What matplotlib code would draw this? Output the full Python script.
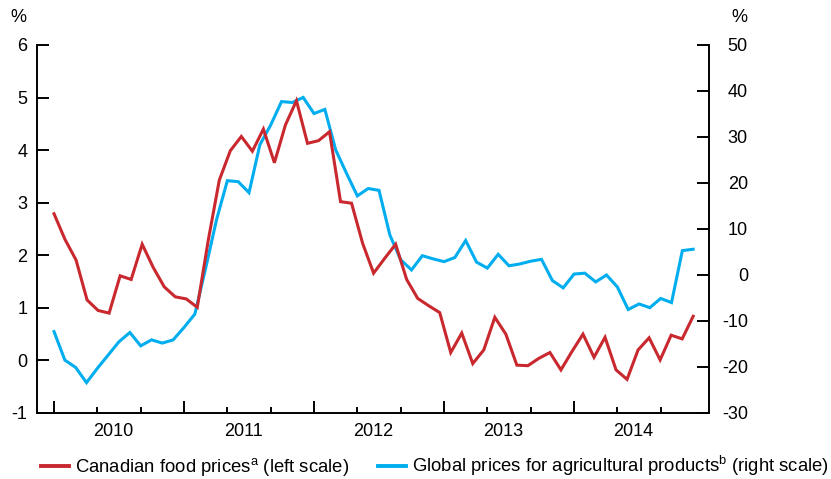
import matplotlib
matplotlib.use("Agg")
import matplotlib.pyplot as plt
import numpy as np

plt.rcParams['font.family'] = ['Liberation Sans', 'DejaVu Sans']
plt.rcParams['mathtext.fontset'] = 'custom'
plt.rcParams['mathtext.rm'] = 'Liberation Sans'
plt.rcParams['axes.unicode_minus'] = False

# Canadian food prices, y/y % (left scale)
food = [2.79, 2.30, 1.91, 1.15, 0.95, 0.90, 1.61, 1.54, 2.21, 1.77,
        1.40, 1.21, 1.17, 1.01, 2.29, 3.43, 3.99, 4.26, 3.98, 4.40,
        3.76, 4.48, 4.94, 4.13, 4.18, 4.35, 3.02, 2.99, 2.23, 1.66,
        1.94, 2.21, 1.54, 1.18, 1.04, 0.91, 0.15, 0.52, -0.06, 0.20,
        0.82, 0.50, -0.09, -0.10, 0.04, 0.15, -0.18, 0.17, 0.50, 0.06,
        0.44, -0.18, -0.36, 0.20, 0.43, 0.01, 0.48, 0.41, 0.84]

# Global prices for agricultural products, y/y % (right scale)
agri = [-12.3, -18.5, -20.1, -23.4, -20.3, -17.4, -14.5, -12.5, -15.4, -14.1,
        -14.8, -14.1, -11.4, -8.5, 1.5, 12.0, 20.5, 20.3, 17.9, 28.3,
        32.6, 37.7, 37.5, 38.6, 35.1, 36.0, 27.2, 22.1, 17.2, 18.8,
        18.4, 8.7, 3.3, 1.1, 4.2, 3.5, 2.9, 3.8, 7.5, 2.8,
        1.5, 4.5, 2.0, 2.4, 3.0, 3.4, -1.2, -2.8, 0.2, 0.4,
        -1.5, 0.0, -2.6, -7.5, -6.3, -7.1, -5.1, -6.0, 5.3, 5.6]

years = ['2010', '2011', '2012', '2013', '2014']
left_ticks = [-1, 0, 1, 2, 3, 4, 5, 6]
right_ticks = [-30, -20, -10, 0, 10, 20, 30, 40, 50]

red = '#c8282e'
blue = '#00aeef'

# months since Jan 2010; food series has one fewer observation over the same span
agri_x = np.arange(len(agri))
food_x = np.linspace(0, len(agri) - 1, len(food))

fig = plt.figure(figsize=(8.31, 4.79), dpi=100)
ax = fig.add_axes([0.04453, 0.13779, 0.80866, 0.76827])
ax2 = ax.twinx()

ax2.plot(agri_x, agri, color=blue, lw=2.2, solid_joinstyle='miter')
ax.plot(food_x, food, color=red, lw=2.2, solid_joinstyle='miter')
ax.set_zorder(ax2.get_zorder() + 1)
ax.patch.set_visible(False)

ax.set_xlim(-1.57, 60.46)
ax.set_ylim(-1, 6)
ax2.set_ylim(-30, 50)

for a in (ax, ax2):
    a.spines['top'].set_visible(False)
    for s in a.spines.values():
        s.set_linewidth(1.4)
ax.spines['right'].set_visible(False)
ax2.spines['left'].set_visible(False)
ax2.spines['bottom'].set_visible(False)

ax.set_yticks(left_ticks)
ax.tick_params(axis='y', direction='in', length=8.4, width=1.4, pad=7, labelsize=13)
ax2.set_yticks(right_ticks)
ax2.tick_params(axis='y', direction='in', length=8.4, width=1.4, pad=28, labelsize=13)
plt.setp(ax2.get_yticklabels(), ha='right')

ax.set_xticks(np.arange(0, 60, 12), labels=[''] * 5)
ax.set_xticks([m for m in range(4, 60, 4) if m % 12], minor=True)
ax.tick_params(axis='x', which='major', direction='in', length=8.4, width=1.4)
ax.tick_params(axis='x', which='minor', direction='in', length=4.3, width=1.4)

for k, yr in enumerate(years):
    ax.text(12 * k + 5.5, -0.049, yr, transform=ax.get_xaxis_transform(),
            ha='center', va='center', fontsize=13)

fig.text(18 / 831, 1 - 17 / 479, '%', ha='center', va='center', fontsize=13)
fig.text(739.5 / 831, 1 - 17 / 479, '%', ha='center', va='center', fontsize=13)

h1, = ax.plot([], [], color=red, lw=2.8)
h2, = ax.plot([], [], color=blue, lw=2.8)
fig.legend([h1, h2],
           ['Canadian food prices$^{\\mathrm{a}}$ (left scale)',
            'Global prices for agricultural products$^{\\mathrm{b}}$ (right scale)'],
           loc='center', bbox_to_anchor=(0.5235, 1 - 466 / 479), ncol=2,
           frameon=False, fontsize=13.3, handlelength=1.5, handletextpad=0.3,
           columnspacing=1.6, borderpad=0, borderaxespad=0)

fig.savefig('out.png', dpi=100)
